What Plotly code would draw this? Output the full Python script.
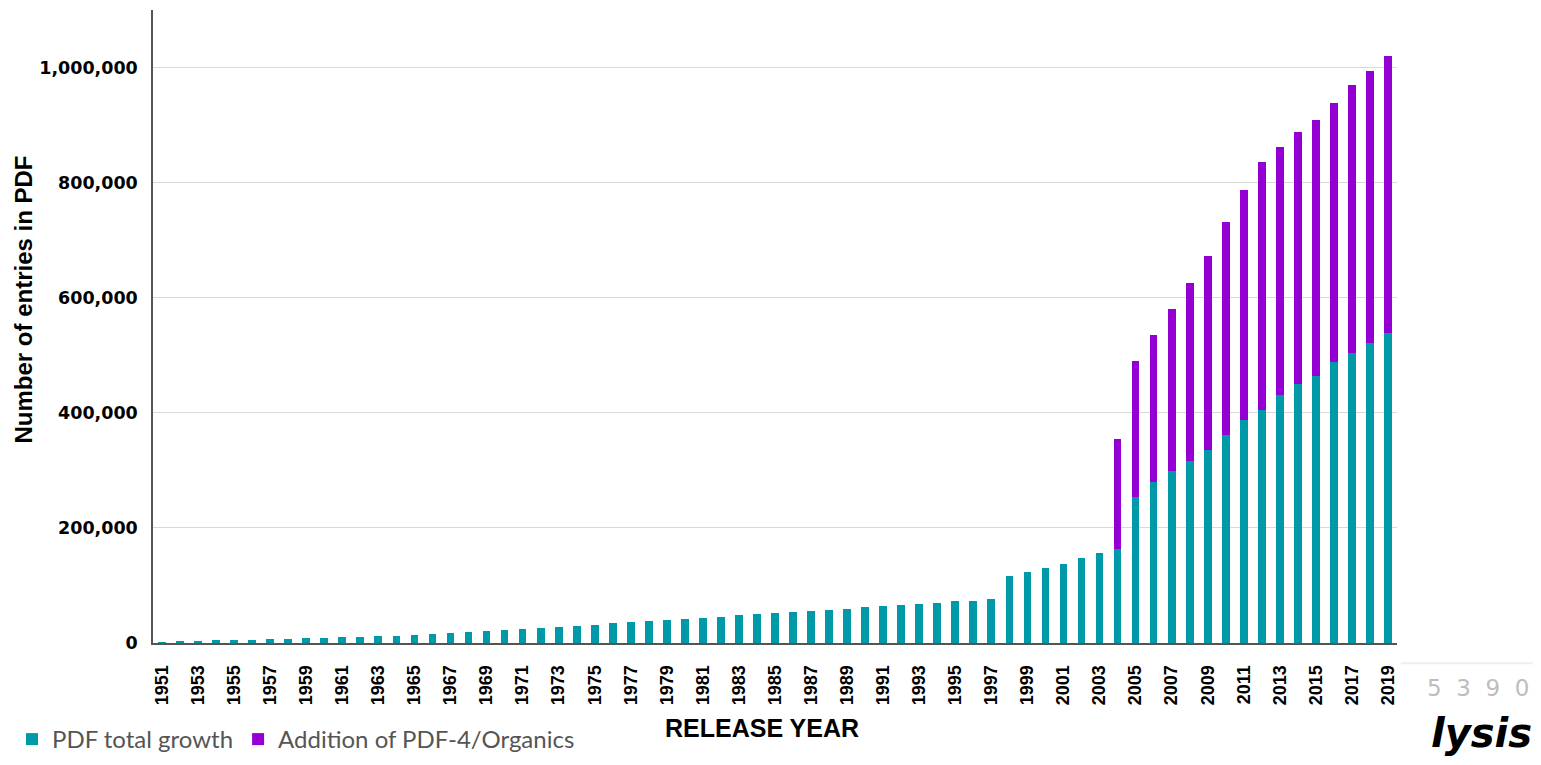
import plotly.graph_objects as go

years = [str(y) for y in range(1951, 2020)]

pdf_total = [
    1000, 2300, 3500, 4600, 5800, 5800, 6900, 6900, 8100, 9300,
    10400, 10400, 11600, 12700, 13900, 15000, 16800, 19100, 20300, 22600,
    24900, 26000, 28400, 29500, 31800, 34700, 35900, 38200, 40500, 41700,
    44000, 45100, 48000, 50300, 51500, 53800, 56100, 57300, 59600, 61900,
    63700, 66000, 67700, 70000, 72300, 73500, 75800, 116800, 124200, 130300,
    137100, 147700, 156900, 163300, 253000, 279200, 299000, 316600, 335700, 361100,
    387300, 405000, 431000, 449500, 464300, 488300, 504600, 520800, 539200,
]

totals_with_addition = {
    "2004": 354800, "2005": 489800, "2006": 535000, "2007": 580200,
    "2008": 625400, "2009": 672800, "2010": 732200, "2011": 786600,
    "2012": 836000, "2013": 861500, "2014": 887600, "2015": 909500,
    "2016": 938500, "2017": 968900, "2018": 993600, "2019": 1020500,
}

addition = [
    (totals_with_addition[y] - v) if y in totals_with_addition else 0
    for y, v in zip(years, pdf_total)
]

tick_years = years[::2]
y_ticks = [0, 200000, 400000, 600000, 800000, 1000000]

TEAL = "#0099a8"
PURPLE = "#9400d3"

fig = go.Figure()
fig.add_trace(go.Bar(x=years, y=pdf_total, name="PDF total growth",
                     marker=dict(color=TEAL, line=dict(width=0))))
fig.add_trace(go.Bar(x=years, y=addition, name="Addition of PDF-4/Organics",
                     marker=dict(color=PURPLE, line=dict(width=0))))

fig.update_layout(
    barmode="stack",
    bargap=0.57,
    width=1530, height=754,
    margin=dict(l=145, r=141, t=2, b=119),
    plot_bgcolor="white", paper_bgcolor="white",
    font=dict(family="Liberation Sans, Arial", color="black"),
    showlegend=True,
    legend=dict(orientation="h", xref="container", yref="container",
                x=0.0026, y=-0.011, xanchor="left", yanchor="bottom",
                font=dict(family="Lato, Open Sans", size=24, color="#555555"),
                itemwidth=30, traceorder="normal",
                tracegroupgap=0, borderwidth=0),
    xaxis=dict(
        type="category",
        tickmode="array", tickvals=tick_years, ticktext=tick_years,
        tickangle=-90,
        tickfont=dict(size=18, family="Liberation Sans, Arial", weight="bold"),
        showline=True, linecolor="#555555", linewidth=2,
        showgrid=False, ticks="", ticklabelstandoff=13,
        range=[-0.5, len(years) - 0.5],
    ),
    yaxis=dict(
        range=[0, 1100000],
        tickmode="array", tickvals=y_ticks,
        tickformat=",d",
        tickfont=dict(size=17.5, family="DejaVu Sans", weight="bold"),
        showline=True, linecolor="#555555", linewidth=1.5,
        showgrid=True, gridcolor="#d9d9d9", gridwidth=1,
        zeroline=False, ticks="", ticklabelstandoff=10,
    ),
    shapes=[
        dict(type="line", xref="paper", yref="paper",
             x0=1.003, x1=1.12, y0=-0.032, y1=-0.032,
             line=dict(color="#eeeeee", width=2)),
    ],
    annotations=[
        dict(text="<b>Number of entries in PDF</b>", textangle=-90,
             xref="paper", yref="paper", x=-0.104, y=0.542,
             xanchor="center", yanchor="middle", showarrow=False,
             font=dict(size=24, family="Liberation Sans, Arial", color="black")),
        dict(text="<b>RELEASE YEAR</b>",
             xref="paper", yref="paper", x=0.4896, y=-0.134,
             xanchor="center", yanchor="middle", showarrow=False,
             font=dict(size=25, family="Liberation Sans, Arial", color="black")),
        dict(text="5&nbsp;&nbsp;3&nbsp;&nbsp;9&nbsp;&nbsp;0",
             xref="paper", yref="paper", x=1.065, y=-0.071,
             xanchor="center", yanchor="middle", showarrow=False,
             font=dict(size=23, family="DejaVu Sans", color="#bdbdbd")),
        dict(text="<b><i>lysis</i></b>",
             xref="paper", yref="paper", x=1.11, y=-0.142,
             xanchor="right", yanchor="middle", showarrow=False,
             font=dict(size=40, family="DejaVu Sans", color="black")),
    ],
)

fig.write_html("out.html")
